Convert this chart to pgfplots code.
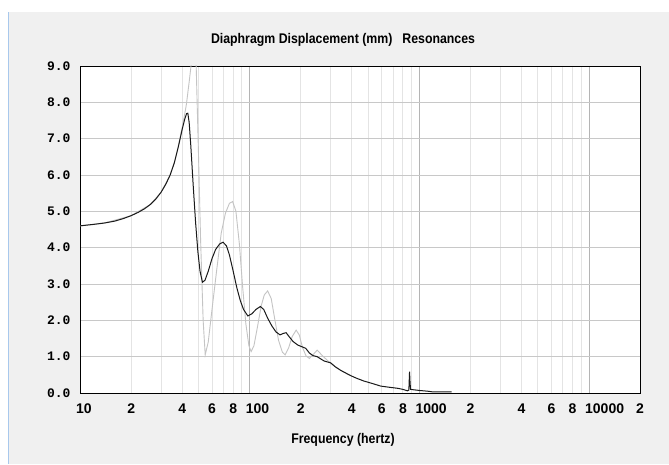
\documentclass[border=0pt]{standalone}
\usepackage{fontspec}
\setmainfont{Liberation Sans}
\newfontfamily\narrowfont{Liberation Sans}[FakeStretch=0.88]
\newfontfamily\monofont{Liberation Mono}
\usepackage{pgfplots}
\pgfplotsset{compat=1.18}
\definecolor{bg}{HTML}{F0F0F0}
\definecolor{gridh}{HTML}{C8C8C8}
\definecolor{gridmaj}{HTML}{B4B4B4}
\definecolor{gridmin}{HTML}{E4E4E4}
\definecolor{graycurve}{HTML}{C4C4C4}
\definecolor{edgeblue}{HTML}{A8C8EC}
\definecolor{curve}{HTML}{1A1A1A}

\pgfplotstableread{
f v
10 4.60
12 4.64
14 4.68
16 4.73
18 4.80
20 4.88
22 4.97
24 5.07
26 5.19
28 5.34
30 5.52
32 5.74
34 6.00
36 6.34
38 6.78
40 7.25
41.5 7.55
42.5 7.69
43.2 7.70
44 7.45
45 6.80
46.5 5.70
48 4.70
49.5 3.90
51 3.35
52.7 3.05
54.5 3.10
57 3.35
60 3.70
63 3.95
66.5 4.10
69.7 4.15
73 4.05
76 3.80
80 3.35
84 2.90
88 2.55
92 2.30
97.6 2.12
103 2.18
109 2.30
115.6 2.38
121 2.30
128 2.05
135 1.85
143 1.68
151 1.60
158 1.64
164 1.66
171 1.55
180 1.42
192 1.32
204 1.27
214 1.23
225 1.10
236 1.03
250 1.00
262 0.94
275 0.88
300 0.83
320 0.72
345 0.62
393 0.48
430 0.40
471 0.33
530 0.26
592 0.19
660 0.16
743 0.13
800 0.10
851 0.06
868 0.08
876 0.59
882 0.30
888 0.10
920 0.09
1000 0.07
1117 0.05
1200 0.03
1550 0.03
}\blackdata

\pgfplotstableread{
f v
10 4.60
14 4.68
20 4.88
26 5.19
30 5.52
34 6.00
36 6.34
38 6.80
40 7.30
41.5 7.70
42.4 7.95
44.1 8.60
45.9 9.30
47.1 10.0
48.4 9.00
49.8 6.80
51.4 4.20
53.2 2.00
54.7 1.05
57 1.40
60 2.30
64 3.40
68 4.40
72 4.95
76 5.22
79.4 5.27
83 5.00
87 4.10
91 2.90
95 1.90
99 1.30
102 1.14
106 1.30
111 1.80
117 2.40
122 2.70
127.7 2.81
134 2.60
141 2.00
148 1.45
156 1.12
162 1.05
170 1.25
178 1.55
188 1.73
196 1.60
205 1.25
215 1.02
225 0.95
236 1.05
250 1.18
262 1.08
275 0.98
290 0.88
300 0.83
320 0.72
345 0.62
393 0.48
}\graydata

\begin{document}
\begin{tikzpicture}
\fill[white] (0pt,0pt) rectangle (669pt,464pt);
\fill[bg] (9pt,0pt) rectangle (669pt,452pt);
\draw[edgeblue, line width=1pt] (8.5pt,0pt) -- (8.5pt,452pt);
\begin{axis}[
  at={(80pt,71pt)}, anchor=south west,
  scale only axis, width=560pt, height=327pt,
  xmode=log, xmin=10, xmax=20000, ymin=0, ymax=9,
  axis background/.style={fill=white},
  axis line style={black, line width=0.9pt},
  major tick length=0pt, minor tick length=0pt,
  xtick={100,1000,10000}, xticklabels={100,1000,10000},
  minor xtick={20,30,40,50,60,70,80,90,200,300,400,500,600,700,800,900,2000,3000,4000,5000,6000,7000,8000,9000},
  xmajorgrids, xminorgrids,
  major x grid style={gridmaj, line width=0.8pt},
  minor x grid style={gridmin, line width=0.8pt},
  extra x ticks={10,20,40,60,80,200,400,600,800,2000,4000,6000,8000,20000},
  extra x tick labels={10,2,4,6,8,2,4,6,8,2,4,6,8,2},
  extra x tick style={grid=none},
  ytick={0,1,2,3,4,5,6,7,8,9},
  yticklabels={0.0,1.0,2.0,3.0,4.0,5.0,6.0,7.0,8.0,9.0},
  ymajorgrids, major y grid style={gridh, line width=0.8pt},
  xticklabel style={font=\bfseries\fontsize{14}{16}\selectfont, anchor=north west, inner sep=0pt, xshift=-4pt, yshift=-11pt},
  yticklabel style={font=\monofont\bfseries\fontsize{13}{15}\selectfont, xshift=-6pt},
]
\addplot[graycurve, line width=0.9pt] table[x=f, y=v] {\graydata};
\addplot[curve, line width=1pt] table[x=f, y=v] {\blackdata};
\end{axis}
\node[font=\narrowfont\bfseries\fontsize{14}{16}\selectfont, anchor=base] at (343pt,420pt) {Diaphragm Displacement (mm)\hspace{10pt}Resonances};
\node[font=\narrowfont\bfseries\fontsize{14}{16}\selectfont, anchor=base] at (343pt,20pt) {Frequency (hertz)};
\end{tikzpicture}
\end{document}
